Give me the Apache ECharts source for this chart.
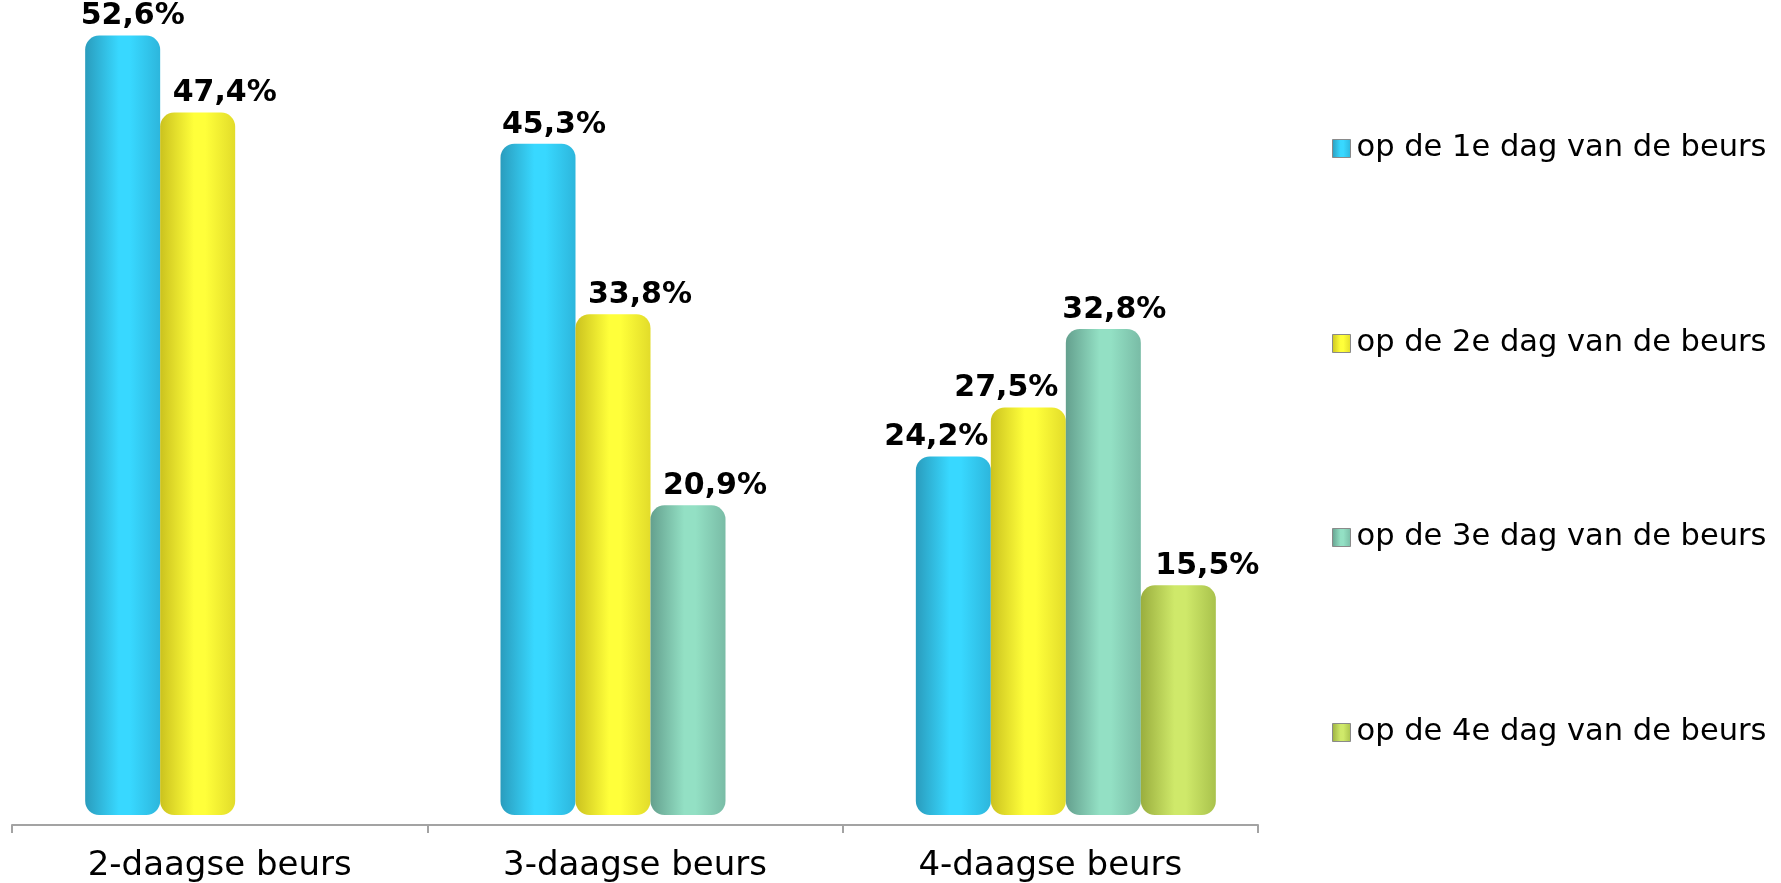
<!DOCTYPE html>
<html>
<head>
<meta charset="utf-8">
<title>Beursdagen</title>
<script src="https://cdn.jsdelivr.net/npm/echarts@6/dist/echarts.min.js"></script>
<style>
  html, body { margin: 0; padding: 0; background: #ffffff; }
  #chart { width: 1781px; height: 883px; }
</style>
</head>
<body>
<div id="chart"></div>
<script>
// Categories and series values (percentages)
const categories = ['2-daagse beurs', '3-daagse beurs', '4-daagse beurs'];
const seriesNames = [
  'op de 1e dag van de beurs',
  'op de 2e dag van de beurs',
  'op de 3e dag van de beurs',
  'op de 4e dag van de beurs'
];
const day1 = [52.6, 45.3, 24.2];
const day2 = [47.4, 33.8, 27.5];
const day3 = [null, 20.9, 32.8];
const day4 = [null, null, 15.5];

// Horizontal nudges for value labels so neighbouring labels don't collide
const labelShift = [
  [10, 16, -17],
  [27, 27, -22],
  [0, 27, 11],
  [0, 0, 29]
];

// Cylinder shading: dark edge, bright core, dark edge
function cylinder(edgeL, core, edgeR) {
  return new echarts.graphic.LinearGradient(0, 0, 1, 0, [
    { offset: 0, color: edgeL },
    { offset: 0.45, color: core },
    { offset: 0.6, color: core },
    { offset: 1, color: edgeR }
  ]);
}
const fills = [
  cylinder('#2a9cbd', '#38d8ff', '#2db6dc'),
  cylinder('#cbc21f', '#ffff3a', '#e2dc2a'),
  cylinder('#64a08e', '#93e0c4', '#79bca6'),
  cylinder('#9aae3e', '#cfe96a', '#a9c24c')
];

const FONT = '"DejaVu Sans", Verdana, sans-serif';
const fmt = v => v.toFixed(1).replace('.', ',') + '%';

const seriesData = [day1, day2, day3, day4];
const series = seriesData.map((vals, s) => ({
  name: seriesNames[s],
  type: 'bar',
  xAxisIndex: 1,
  yAxisIndex: 1,
  barWidth: 75,
  barGap: '0%',
  itemStyle: { color: fills[s], borderRadius: 14 },
  label: {
    show: true,
    position: 'top',
    distance: 4,
    color: '#000',
    fontFamily: FONT,
    fontWeight: 'bold',
    fontSize: 30,
    formatter: p => fmt(p.value)
  },
  data: vals.map((v, i) => v === null ? null : {
    value: v,
    label: { offset: [labelShift[s][i], 0] }
  })
}));

const legendCenters = [148, 343, 537, 732];
const legends = seriesNames.map((n, s) => ({
  data: [n],
  left: 1332,
  top: legendCenters[s] - 15,
  padding: 0,
  orient: 'vertical',
  icon: 'rect',
  itemWidth: 18,
  itemHeight: 18,
  selectedMode: false,
  itemStyle: { borderColor: '#8a8a8a', borderWidth: 1 },
  textStyle: {
    fontFamily: FONT,
    fontSize: 30.5,
    lineHeight: 30,
    color: '#000',
    padding: [0, 0, 0, 1]
  }
}));

const chart = echarts.init(document.getElementById('chart'), null, { renderer: 'canvas' });
chart.setOption({
  backgroundColor: '#ffffff',
  animation: false,
  legend: legends,
  grid: [
    { left: 12, right: 523, top: 0, bottom: 58, containLabel: false, outerBoundsMode: 'none' },
    { left: 27.5, right: 507.5, top: 0, bottom: 68, containLabel: false, outerBoundsMode: 'none' }
  ],
  xAxis: [
    {
      type: 'category',
      gridIndex: 0,
      data: categories,
      axisLine: { show: true, lineStyle: { color: '#a3a3a3', width: 2 } },
      axisTick: { show: true, length: 8, lineStyle: { color: '#a3a3a3', width: 2 } },
      axisLabel: { color: '#000', fontFamily: FONT, fontSize: 34, margin: 24 }
    },
    {
      type: 'category',
      gridIndex: 1,
      data: categories,
      show: false
    }
  ],
  yAxis: [
    { type: 'value', gridIndex: 0, show: false, min: 0, max: 55 },
    { type: 'value', gridIndex: 1, show: false, min: 0, max: 55 }
  ],
  series: series
});
</script>
</body>
</html>
